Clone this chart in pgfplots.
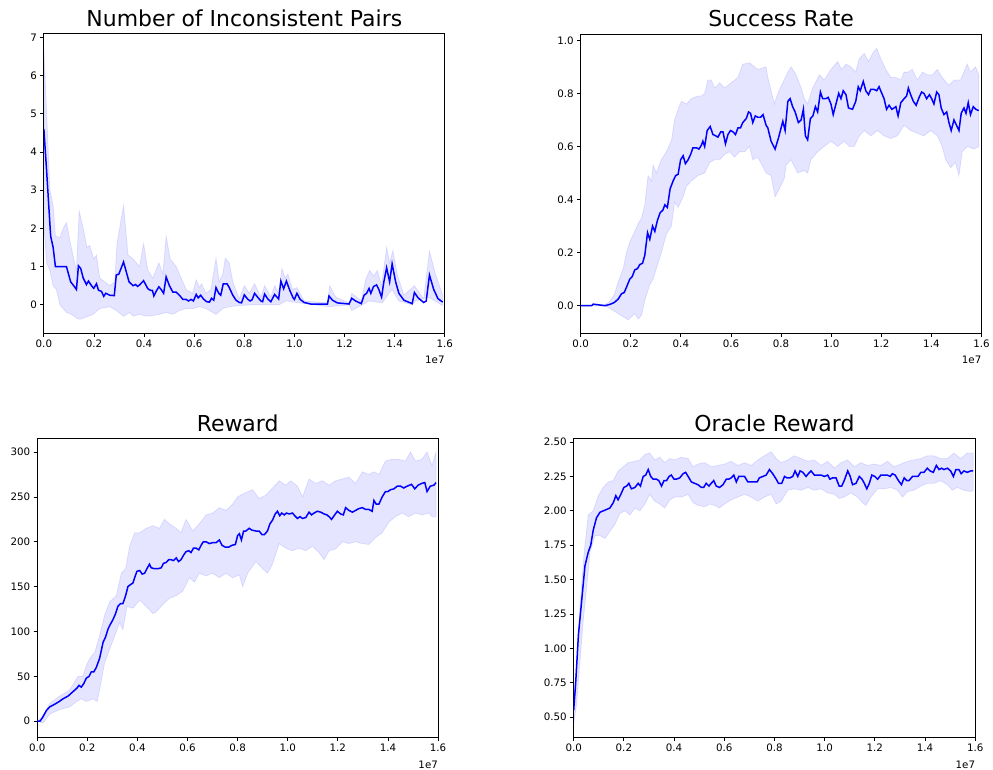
\documentclass[border=0pt]{standalone}
\usepackage{pgfplots}
\pgfplotsset{compat=1.18}
\usepackage{pgfplotstable}
\usepgfplotslibrary{fillbetween}
\usepackage{fontspec}
\setmainfont{DejaVu Sans}

% ---------- Number of Inconsistent Pairs ----------
\pgfplotstableread{
x y
0 4.6
0.011 3.5
0.027 1.8
0.037 1.5
0.046 1.0
0.090 1.0
0.107 0.6
0.119 0.5
0.130 0.4
0.138 1.02
0.147 0.95
0.157 0.7
0.170 0.53
0.178 0.62
0.190 0.5
0.199 0.43
0.210 0.55
0.218 0.38
0.230 0.35
0.239 0.22
0.247 0.3
0.263 0.25
0.281 0.24
0.289 0.78
0.299 0.8
0.318 1.12
0.340 0.6
0.356 0.5
0.366 0.53
0.374 0.48
0.382 0.52
0.398 0.63
0.415 0.42
0.425 0.38
0.433 0.38
0.439 0.23
0.448 0.35
0.459 0.47
0.468 0.4
0.478 0.3
0.488 0.73
0.501 0.5
0.515 0.33
0.528 0.33
0.541 0.25
0.555 0.14
0.568 0.14
0.577 0.1
0.588 0.14
0.597 0.1
0.608 0.27
0.616 0.18
0.626 0.25
0.637 0.15
0.650 0.08
0.661 0.07
0.669 0.17
0.678 0.12
0.687 0.45
0.698 0.3
0.706 0.25
0.716 0.55
0.731 0.55
0.740 0.45
0.754 0.25
0.767 0.12
0.780 0.06
0.789 0.05
0.800 0.26
0.813 0.15
0.823 0.1
0.831 0.13
0.841 0.3
0.853 0.2
0.866 0.1
0.873 0.08
0.881 0.28
0.894 0.15
0.906 0.08
0.921 0.27
0.937 0.15
0.946 0.62
0.957 0.42
0.968 0.62
0.982 0.37
0.995 0.18
1.000 0.14
1.010 0.3
1.023 0.14
1.039 0.06
1.065 0.02
1.132 0.02
1.138 0.23
1.152 0.12
1.171 0.05
1.218 0.02
1.229 0.17
1.244 0.1
1.267 0.03
1.278 0.25
1.288 0.3
1.298 0.43
1.305 0.3
1.316 0.48
1.328 0.52
1.337 0.4
1.348 0.2
1.357 0.6
1.368 0.97
1.380 0.6
1.390 1.07
1.404 0.6
1.417 0.3
1.437 0.12
1.470 0.03
1.479 0.32
1.494 0.18
1.516 0.06
1.526 0.1
1.539 0.78
1.556 0.4
1.573 0.16
1.592 0.07
}\meanA
\pgfplotstableread{
x y
0 6.7
0.011 5.0
0.024 3.0
0.037 2.6
0.046 1.8
0.064 1.75
0.077 2.0
0.090 2.15
0.103 1.7
0.119 1.2
0.130 0.9
0.141 2.45
0.157 2.0
0.172 1.5
0.183 1.55
0.199 1.2
0.210 1.3
0.223 0.7
0.263 0.5
0.283 0.6
0.292 1.6
0.318 2.6
0.336 1.3
0.356 1.2
0.382 1.0
0.398 1.6
0.415 0.9
0.435 0.7
0.459 1.1
0.475 0.8
0.488 1.8
0.504 1.2
0.528 1.0
0.548 0.7
0.568 0.4
0.594 0.3
0.608 0.65
0.621 0.45
0.629 0.55
0.647 0.3
0.667 0.4
0.687 1.22
0.700 0.6
0.714 0.8
0.724 1.22
0.740 1.1
0.754 0.6
0.780 0.15
0.800 0.5
0.820 0.3
0.841 0.55
0.866 0.2
0.881 0.5
0.906 0.2
0.921 0.5
0.937 0.3
0.950 0.95
0.963 0.7
0.974 0.8
0.992 0.4
1.010 0.45
1.039 0.1
1.132 0.05
1.141 0.5
1.165 0.2
1.218 0.05
1.229 0.3
1.267 0.1
1.284 0.65
1.300 0.9
1.317 0.75
1.331 0.9
1.348 0.5
1.368 1.5
1.380 1.1
1.393 1.42
1.410 0.8
1.437 0.25
1.479 0.5
1.516 0.15
1.539 1.4
1.563 0.8
1.592 0.25
}\upA
\pgfplotstableread{
x y
0 2.1
0.011 1.1
0.024 0.9
0.037 0.5
0.050 0.4
0.064 0.0
0.077 -0.1
0.090 -0.2
0.110 -0.25
0.130 -0.35
0.143 -0.38
0.170 -0.32
0.196 -0.25
0.223 -0.1
0.263 -0.05
0.289 -0.15
0.318 -0.3
0.342 -0.2
0.356 -0.3
0.382 -0.25
0.409 -0.3
0.435 -0.28
0.462 -0.25
0.488 -0.2
0.515 -0.25
0.541 -0.15
0.568 -0.1
0.594 -0.1
0.621 -0.05
0.647 -0.1
0.674 -0.2
0.687 -0.25
0.714 -0.1
0.740 -0.05
0.780 -0.02
0.833 0.0
0.886 0.0
0.939 0.0
0.966 0.1
1.019 0.05
1.138 -0.05
1.218 0.0
1.229 -0.15
1.271 0.0
1.298 0.1
1.351 0.05
1.377 0.3
1.390 0.4
1.417 0.1
1.470 0.0
1.483 0.1
1.536 0.2
1.592 -0.02
}\loA

% ---------- Success Rate ----------
\pgfplotstableread{
x y
0 0
0.044 0
0.050 0.006
0.097 0.0
0.117 0.005
0.134 0.012
0.150 0.025
0.163 0.045
0.174 0.05
0.183 0.07
0.196 0.1
0.206 0.11
0.216 0.135
0.227 0.14
0.236 0.155
0.247 0.16
0.256 0.19
0.267 0.275
0.276 0.25
0.287 0.3
0.296 0.28
0.306 0.32
0.317 0.35
0.328 0.36
0.336 0.38
0.346 0.37
0.357 0.44
0.369 0.47
0.379 0.49
0.389 0.495
0.399 0.55
0.409 0.565
0.418 0.535
0.429 0.55
0.439 0.57
0.448 0.595
0.462 0.595
0.472 0.59
0.482 0.605
0.488 0.62
0.495 0.6
0.505 0.66
0.517 0.675
0.528 0.645
0.539 0.64
0.548 0.635
0.559 0.655
0.568 0.655
0.578 0.61
0.588 0.645
0.598 0.66
0.608 0.655
0.618 0.645
0.628 0.67
0.638 0.67
0.647 0.69
0.661 0.705
0.670 0.73
0.678 0.725
0.687 0.69
0.697 0.715
0.707 0.71
0.718 0.71
0.728 0.72
0.740 0.68
0.747 0.67
0.760 0.62
0.776 0.59
0.789 0.63
0.807 0.695
0.816 0.66
0.827 0.77
0.836 0.78
0.846 0.75
0.856 0.73
0.869 0.69
0.880 0.70
0.889 0.74
0.897 0.64
0.906 0.625
0.917 0.705
0.927 0.715
0.937 0.75
0.946 0.73
0.957 0.805
0.966 0.78
0.979 0.78
0.988 0.785
0.999 0.76
1.008 0.72
1.019 0.76
1.030 0.80
1.039 0.78
1.048 0.81
1.059 0.795
1.069 0.745
1.085 0.74
1.098 0.77
1.108 0.825
1.116 0.81
1.128 0.845
1.138 0.81
1.149 0.795
1.158 0.815
1.171 0.815
1.182 0.81
1.191 0.825
1.202 0.80
1.211 0.78
1.221 0.74
1.231 0.755
1.242 0.74
1.251 0.745
1.258 0.75
1.267 0.715
1.278 0.765
1.291 0.78
1.301 0.79
1.308 0.82
1.317 0.795
1.328 0.77
1.339 0.755
1.351 0.785
1.361 0.805
1.370 0.80
1.381 0.78
1.392 0.795
1.401 0.78
1.410 0.76
1.421 0.805
1.430 0.795
1.439 0.745
1.450 0.72
1.461 0.73
1.470 0.69
1.479 0.66
1.490 0.70
1.500 0.68
1.510 0.66
1.519 0.725
1.530 0.745
1.538 0.725
1.547 0.765
1.556 0.72
1.567 0.75
1.577 0.74
1.589 0.735
}\meanB
\pgfplotstableread{
x y
0 0
0.097 0.005
0.110 0.01
0.134 0.04
0.150 0.09
0.170 0.14
0.183 0.2
0.196 0.24
0.216 0.28
0.230 0.31
0.243 0.33
0.256 0.38
0.269 0.49
0.283 0.47
0.289 0.53
0.302 0.5
0.322 0.55
0.342 0.58
0.362 0.62
0.375 0.7
0.389 0.74
0.402 0.77
0.422 0.76
0.442 0.78
0.468 0.79
0.482 0.79
0.495 0.80
0.508 0.85
0.521 0.85
0.535 0.82
0.555 0.84
0.574 0.82
0.601 0.84
0.628 0.86
0.647 0.91
0.674 0.915
0.707 0.89
0.740 0.90
0.747 0.86
0.760 0.81
0.773 0.76
0.787 0.80
0.807 0.84
0.827 0.88
0.840 0.90
0.860 0.87
0.880 0.82
0.893 0.78
0.906 0.76
0.926 0.82
0.953 0.87
0.972 0.85
0.999 0.89
1.026 0.92
1.041 0.89
1.059 0.91
1.079 0.90
1.098 0.88
1.112 0.93
1.132 0.95
1.149 0.92
1.165 0.95
1.182 0.97
1.198 0.93
1.218 0.89
1.238 0.86
1.258 0.86
1.278 0.85
1.291 0.88
1.307 0.88
1.324 0.89
1.344 0.85
1.364 0.88
1.384 0.87
1.404 0.87
1.424 0.89
1.443 0.86
1.470 0.83
1.490 0.85
1.516 0.85
1.543 0.91
1.556 0.88
1.576 0.90
1.589 0.87
}\upB
\pgfplotstableread{
x y
0 0
0.097 0
0.117 -0.01
0.150 -0.03
0.176 -0.045
0.190 -0.053
0.216 -0.03
0.230 -0.05
0.243 -0.035
0.256 0.02
0.276 0.08
0.289 0.10
0.302 0.14
0.322 0.20
0.342 0.27
0.362 0.30
0.375 0.39
0.389 0.37
0.409 0.41
0.422 0.45
0.442 0.47
0.468 0.49
0.495 0.50
0.515 0.54
0.535 0.55
0.555 0.55
0.574 0.57
0.594 0.58
0.614 0.56
0.634 0.58
0.654 0.58
0.674 0.60
0.687 0.55
0.707 0.56
0.740 0.50
0.760 0.49
0.776 0.41
0.793 0.44
0.813 0.48
0.820 0.53
0.840 0.55
0.866 0.50
0.893 0.51
0.906 0.50
0.919 0.55
0.946 0.58
0.972 0.60
0.999 0.62
1.026 0.60
1.052 0.62
1.072 0.60
1.092 0.60
1.112 0.64
1.132 0.66
1.158 0.64
1.185 0.66
1.211 0.64
1.238 0.63
1.264 0.64
1.291 0.68
1.317 0.66
1.344 0.65
1.370 0.64
1.397 0.66
1.424 0.64
1.443 0.60
1.457 0.55
1.477 0.52
1.496 0.54
1.510 0.49
1.523 0.58
1.543 0.60
1.570 0.59
1.589 0.60
}\loB

% ---------- Reward ----------
\pgfplotstableread{
x y
0 0
0.011 0
0.021 4
0.037 12
0.050 16
0.070 19
0.088 22
0.103 25
0.123 28
0.143 33
0.159 37
0.167 40
0.176 38
0.186 42
0.196 48
0.207 50
0.216 55
0.226 55
0.236 60
0.249 70
0.263 88
0.273 94
0.283 103
0.292 108
0.302 113
0.313 120
0.322 128
0.332 131
0.342 131
0.353 140
0.362 150
0.371 152
0.382 154
0.389 160
0.398 167
0.409 168
0.419 164
0.429 165
0.438 170
0.448 175
0.455 171
0.468 170
0.482 170
0.495 171
0.504 176
0.515 177
0.525 180
0.535 180
0.544 179
0.555 182
0.564 178
0.574 180
0.584 185
0.594 189
0.605 190
0.614 188
0.624 193
0.634 193
0.645 191
0.654 196
0.663 200
0.674 200
0.687 198
0.700 199
0.714 199
0.727 202
0.738 196
0.751 194
0.764 194
0.777 196
0.791 197
0.800 207
0.807 209
0.815 202
0.824 212
0.833 212
0.846 215
0.857 213
0.873 212
0.886 212
0.897 208
0.907 208
0.919 212
0.929 220
0.939 224
0.950 231
0.959 234
0.968 229
0.976 232
0.986 230
0.995 232
1.006 231
1.019 232
1.028 229
1.039 226
1.049 228
1.059 226
1.072 227
1.085 233
1.095 230
1.105 232
1.118 234
1.132 233
1.145 231
1.156 230
1.165 228
1.175 225
1.185 229
1.198 234
1.211 231
1.222 230
1.231 238
1.244 235
1.258 233
1.271 235
1.284 237
1.298 238
1.311 236
1.324 236
1.337 234
1.344 246
1.353 242
1.364 242
1.377 250
1.390 256
1.400 256
1.410 258
1.424 259
1.437 262
1.450 262
1.463 260
1.477 262
1.494 264
1.507 259
1.520 263
1.534 265
1.547 266
1.556 256
1.569 262
1.583 263
1.592 266
}\meanC
\pgfplotstableread{
x y
0 0
0.024 6
0.050 20
0.090 28
0.130 35
0.163 50
0.183 50
0.196 62
0.210 70
0.230 77
0.249 95
0.269 118
0.289 133
0.316 140
0.336 165
0.353 170
0.369 195
0.389 210
0.409 210
0.435 215
0.462 218
0.488 215
0.508 225
0.528 220
0.555 215
0.574 210
0.594 225
0.621 212
0.647 220
0.674 230
0.700 232
0.727 238
0.754 235
0.780 242
0.800 250
0.833 255
0.860 258
0.886 248
0.913 252
0.939 260
0.966 268
0.992 263
1.012 268
1.039 262
1.059 250
1.085 270
1.112 265
1.138 268
1.165 263
1.191 268
1.218 270
1.244 272
1.271 265
1.298 278
1.324 275
1.344 278
1.364 275
1.390 290
1.417 292
1.443 292
1.470 290
1.490 300
1.510 290
1.536 292
1.556 300
1.576 285
1.592 300
}\upC
\pgfplotstableread{
x y
0 0
0.024 -2
0.050 8
0.090 13
0.130 16
0.157 22
0.176 25
0.196 22
0.223 25
0.239 22
0.249 35
0.269 65
0.289 80
0.309 95
0.329 110
0.342 102
0.358 128
0.382 126
0.409 135
0.435 128
0.462 120
0.475 122
0.501 130
0.528 137
0.555 140
0.581 145
0.608 160
0.628 155
0.647 165
0.674 162
0.700 165
0.727 160
0.754 165
0.780 160
0.807 163
0.820 150
0.840 165
0.873 178
0.900 170
0.919 165
0.939 175
0.966 198
0.992 193
1.019 190
1.045 193
1.072 190
1.098 195
1.125 188
1.145 180
1.165 190
1.191 192
1.218 200
1.244 198
1.271 200
1.298 198
1.324 197
1.351 205
1.377 210
1.404 222
1.430 228
1.457 232
1.483 228
1.510 232
1.536 230
1.563 232
1.576 228
1.592 228
}\loC

% ---------- Oracle Reward ----------
\pgfplotstableread{
x y
0 0.55
0.008 0.75
0.019 1.1
0.032 1.35
0.045 1.6
0.058 1.7
0.068 1.75
0.078 1.86
0.091 1.95
0.105 1.99
0.118 2.0
0.131 2.01
0.144 2.02
0.158 2.06
0.168 2.11
0.177 2.08
0.188 2.12
0.200 2.17
0.211 2.18
0.220 2.2
0.230 2.16
0.244 2.17
0.257 2.2
0.266 2.18
0.277 2.25
0.287 2.26
0.297 2.3
0.307 2.25
0.317 2.23
0.330 2.23
0.339 2.22
0.350 2.18
0.360 2.22
0.370 2.22
0.380 2.25
0.389 2.26
0.400 2.23
0.409 2.23
0.423 2.24
0.436 2.27
0.446 2.28
0.456 2.25
0.469 2.21
0.482 2.2
0.495 2.19
0.509 2.17
0.518 2.17
0.528 2.2
0.539 2.18
0.548 2.2
0.558 2.22
0.568 2.18
0.581 2.17
0.595 2.19
0.608 2.23
0.618 2.23
0.628 2.24
0.638 2.26
0.648 2.21
0.658 2.25
0.670 2.25
0.681 2.25
0.694 2.21
0.707 2.21
0.721 2.21
0.731 2.21
0.740 2.24
0.754 2.25
0.767 2.26
0.780 2.3
0.793 2.27
0.807 2.23
0.816 2.2
0.829 2.2
0.840 2.25
0.850 2.24
0.862 2.24
0.873 2.25
0.882 2.29
0.893 2.25
0.902 2.29
0.913 2.28
0.926 2.25
0.935 2.27
0.946 2.29
0.959 2.26
0.972 2.26
0.986 2.26
0.999 2.25
1.012 2.26
1.021 2.23
1.032 2.24
1.045 2.24
1.058 2.18
1.068 2.18
1.078 2.22
1.092 2.29
1.102 2.25
1.111 2.19
1.125 2.2
1.138 2.25
1.149 2.23
1.158 2.2
1.168 2.16
1.178 2.2
1.188 2.26
1.200 2.25
1.211 2.23
1.224 2.26
1.237 2.26
1.250 2.26
1.261 2.25
1.270 2.27
1.281 2.26
1.294 2.22
1.306 2.19
1.317 2.24
1.327 2.22
1.336 2.22
1.350 2.25
1.363 2.25
1.372 2.25
1.383 2.28
1.396 2.28
1.409 2.31
1.420 2.29
1.433 2.28
1.445 2.33
1.456 2.3
1.466 2.31
1.475 2.3
1.489 2.31
1.502 2.29
1.513 2.25
1.523 2.3
1.535 2.3
1.544 2.27
1.555 2.29
1.568 2.28
1.582 2.29
1.592 2.29
}\meanD
\pgfplotstableread{
x y
0 0.65
0.012 0.9
0.025 1.3
0.042 1.7
0.058 1.97
0.078 2.0
0.098 2.11
0.118 2.17
0.138 2.21
0.158 2.22
0.177 2.29
0.197 2.32
0.217 2.35
0.244 2.36
0.264 2.37
0.284 2.41
0.303 2.42
0.323 2.37
0.343 2.39
0.363 2.35
0.383 2.38
0.403 2.37
0.429 2.39
0.456 2.38
0.475 2.32
0.495 2.34
0.522 2.35
0.548 2.32
0.575 2.33
0.601 2.34
0.628 2.36
0.654 2.33
0.681 2.35
0.707 2.33
0.734 2.37
0.760 2.40
0.787 2.43
0.807 2.38
0.826 2.35
0.853 2.37
0.879 2.40
0.906 2.38
0.933 2.36
0.959 2.37
0.986 2.33
1.012 2.36
1.039 2.31
1.065 2.35
1.091 2.37
1.118 2.32
1.144 2.35
1.171 2.33
1.197 2.34
1.224 2.33
1.250 2.36
1.277 2.32
1.303 2.34
1.330 2.36
1.356 2.37
1.383 2.38
1.409 2.40
1.436 2.40
1.462 2.38
1.489 2.38
1.515 2.42
1.542 2.38
1.568 2.42
1.592 2.42
}\upD
\pgfplotstableread{
x y
0 0.45
0.012 0.6
0.025 0.9
0.038 1.2
0.052 1.45
0.065 1.7
0.085 1.82
0.105 1.82
0.125 1.8
0.144 1.85
0.164 1.9
0.184 1.98
0.204 2.0
0.224 1.97
0.244 2.02
0.264 2.0
0.284 2.05
0.303 2.12
0.323 2.07
0.343 2.05
0.363 2.02
0.383 2.08
0.403 2.1
0.429 2.1
0.456 2.12
0.475 2.06
0.495 2.04
0.522 2.03
0.542 2.05
0.562 2.04
0.581 2.02
0.601 2.05
0.628 2.08
0.654 2.1
0.681 2.12
0.707 2.1
0.734 2.07
0.760 2.1
0.787 2.12
0.807 2.05
0.826 2.07
0.853 2.15
0.879 2.16
0.906 2.15
0.933 2.17
0.959 2.15
0.986 2.16
1.012 2.13
1.039 2.12
1.058 2.09
1.078 2.1
1.105 2.13
1.131 2.1
1.151 2.06
1.164 2.04
1.184 2.1
1.211 2.16
1.237 2.16
1.264 2.17
1.290 2.15
1.310 2.1
1.330 2.14
1.356 2.15
1.383 2.18
1.409 2.2
1.436 2.2
1.462 2.22
1.489 2.19
1.509 2.15
1.528 2.17
1.555 2.15
1.582 2.14
1.592 2.15
}\loD

\pgfplotsset{
  myax/.style={
    scale only axis, width=402pt, height=300pt,
    xmin=0, xmax=1.6,
    xtick={0,0.2,0.4,0.6,0.8,1.0,1.2,1.4,1.6},
    xticklabel style={/pgf/number format/.cd, fixed, fixed zerofill, precision=1},
    /pgf/number format/assume math mode=true,
    tick label style={font=\fontsize{10.3}{12}\selectfont, text=black},
    tick align=outside, tick pos=left,
    major tick length=3.5pt,
    every tick/.style={black, line width=0.8pt},
    axis line style={black, line width=0.8pt},
    title style={font=\fontsize{22}{26}\selectfont, anchor=base, yshift=1pt},
    after end axis/.code={
      \node[anchor=base east, font=\fontsize{10.3}{12}\selectfont, inner sep=0pt, yshift=-31pt] at (rel axis cs:1,0) {1e7};
    },
  },
  meanline/.style={color={rgb,255:red,0;green,0;blue,255}, line width=1.5pt},
  band/.style={fill={rgb,255:red,0;green,0;blue,255}, fill opacity=0.1, draw={rgb,255:red,0;green,0;blue,255}, draw opacity=0.1, line width=0.8pt},
}

\begin{document}
\begin{tikzpicture}

% Top left
\begin{axis}[myax, at={(44pt,438pt)}, anchor=south west,
  title={Number of Inconsistent Pairs},
  ymin=-0.74, ymax=7.09, ytick={0,1,2,3,4,5,6,7}]
  \addplot[draw=none, name path=uA] table {\upA};
  \addplot[draw=none, name path=lA] table {\loA};
  \addplot[band] fill between[of=uA and lA];
  \addplot[meanline] table {\meanA};
\end{axis}

% Top right
\begin{axis}[myax, at={(582.3pt,438pt)}, anchor=south west,
  title={Success Rate},
  ymin=-0.103, ymax=1.024, ytick={0,0.2,0.4,0.6,0.8,1.0},
  yticklabel style={/pgf/number format/.cd, fixed, fixed zerofill, precision=1}]
  \addplot[draw=none, name path=uB] table {\upB};
  \addplot[draw=none, name path=lB] table {\loB};
  \addplot[band] fill between[of=uB and lB];
  \addplot[meanline] table {\meanB};
\end{axis}

% Bottom left
\begin{axis}[myax, at={(37.3pt,32.7pt)}, anchor=south west,
  title={Reward},
  ymin=-17.8, ymax=315.6, ytick={0,50,100,150,200,250,300}]
  \addplot[draw=none, name path=uC] table {\upC};
  \addplot[draw=none, name path=lC] table {\loC};
  \addplot[band] fill between[of=uC and lC];
  \addplot[meanline] table {\meanC};
\end{axis}

% Bottom right
\begin{axis}[myax, at={(575.3pt,32.7pt)}, anchor=south west, width=402.7pt,
  title={Oracle Reward},
  ymin=0.355, ymax=2.529, ytick={0.5,0.75,1.0,1.25,1.5,1.75,2.0,2.25,2.5},
  yticklabel style={/pgf/number format/.cd, fixed, fixed zerofill, precision=2}]
  \addplot[draw=none, name path=uD] table {\upD};
  \addplot[draw=none, name path=lD] table {\loD};
  \addplot[band] fill between[of=uD and lD];
  \addplot[meanline] table {\meanD};
\end{axis}

\path[use as bounding box] (0pt,0pt) rectangle (993pt,772pt);
\end{tikzpicture}
\end{document}
